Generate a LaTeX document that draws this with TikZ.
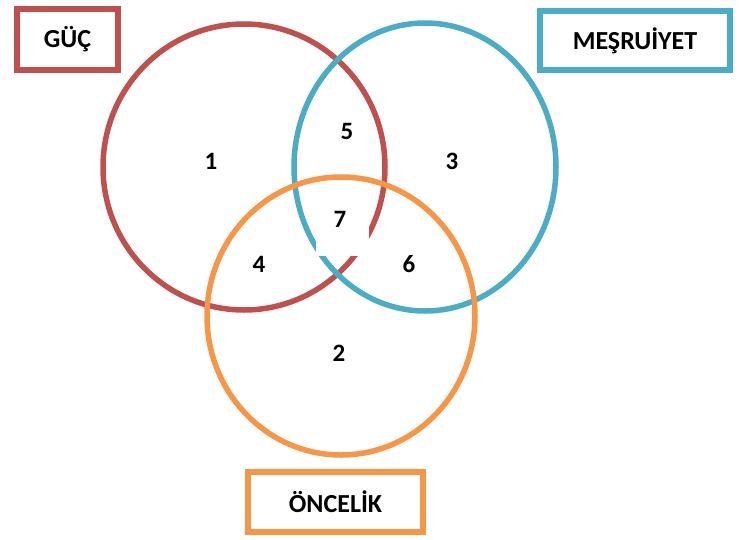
\documentclass[tikz,border=0pt]{standalone}
\usepackage{fontspec}
\setmainfont{Carlito}
\definecolor{cred}{HTML}{C0504D}
\definecolor{cblue}{HTML}{4BACC6}
\definecolor{corange}{HTML}{F79646}
\begin{document}
\begin{tikzpicture}[x=1pt,y=-1pt,
  ring/.style={line width=5.5pt},
  lab/.style={draw, line width=6.5pt, fill=white, inner sep=0pt, font=\fontsize{26}{30}\selectfont\bfseries},
  num/.style={font=\fontsize{25}{30}\selectfont\bfseries, inner sep=0pt}]
\useasboundingbox (0,0) rectangle (740,539);
\draw[ring, cred] (244,167) ellipse [x radius=141, y radius=143];
\draw[ring, cblue] (425,167) ellipse [x radius=131, y radius=144];
\fill[white] (316,196) rectangle (369,256);
\draw[ring, corange] (341,316) ellipse [x radius=134, y radius=139];
\node[lab, draw=cred, minimum width=101pt, minimum height=61pt] (guc) at (67.5,39.5) {GÜÇ};
\node[lab, draw=cblue, minimum width=190pt, minimum height=59pt] (mes) at (635,40.5) {MEŞRUİYET};
\node[lab, draw=corange, minimum width=175pt, minimum height=60pt] (onc) at (335.5,502) {ÖNCELİK};
\node[num] (n1) at (211,161) {1};
\node[num] (n5) at (347,131) {5};
\node[num] (n3) at (452,161) {3};
\node[num] (n7) at (340,219) {7};
\node[num] (n4) at (259,264) {4};
\node[num] (n6) at (409,264) {6};
\node[num] (n2) at (339,353) {2};
\end{tikzpicture}
\end{document}
